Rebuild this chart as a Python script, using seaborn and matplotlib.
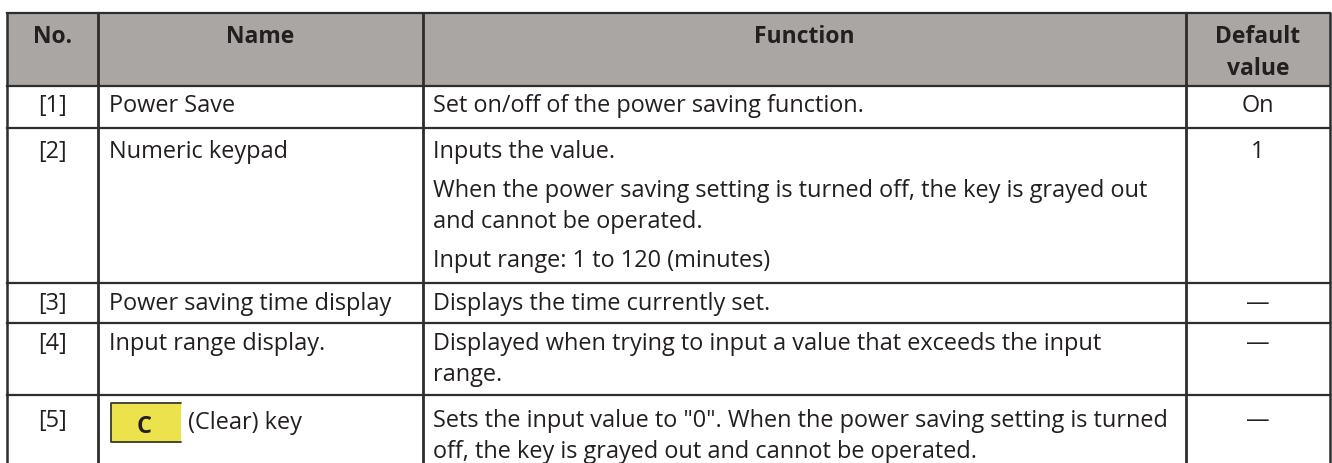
import matplotlib
matplotlib.use("Agg")
import matplotlib.pyplot as plt
from matplotlib.patches import Rectangle
import seaborn as sns

# table content
headers = ["No.", "Name", "Function", "Default\nvalue"]
numbers = ["[1]", "[2]", "[3]", "[4]", "[5]"]
names = ["Power Save", "Numeric keypad", "Power saving time display",
         "Input range display.", "(Clear) key"]
functions = [
    [["Set on/off of the power saving function."]],
    [["Inputs the value."],
     ["When the power saving setting is turned off, the key is grayed out",
      "and cannot be operated."],
     ["Input range: 1 to 120 (minutes)"]],
    [["Displays the time currently set."]],
    [["Displayed when trying to input a value that exceeds the input",
      "range."]],
    [["Sets the input value to \"0\". When the power saving setting is turned",
      "off, the key is grayed out and cannot be operated."]],
]
defaults = ["On", "1", "\u2014", "\u2014", "\u2014"]
key_label = "C"

# layout in pixels
W, H = 1332, 463
col_edges = [7, 98, 423, 1186, 1330]
row_edges = [13, 86, 128, 283, 323, 395, 480]
first_offset = [26, 30, 27, 27, 32]
line_step = 31
para_step = 39

sns.set_theme(style="white")
plt.rcParams["font.family"] = ["Open Sans", "DejaVu Sans"]

ink = "#231f20"
line_col = "#2d2d2d"
head_fill = "#aaa6a3"
body_fs = 16.9
head_fs = 16.5

fig = plt.figure(figsize=(W / 100, H / 100), dpi=100)
ax = fig.add_axes([0, 0, 1, 1])
ax.set_xlim(0, W)
ax.set_ylim(H, 0)
ax.axis("off")

# header band
ax.add_patch(Rectangle((col_edges[0], row_edges[0]),
                       col_edges[-1] - col_edges[0],
                       row_edges[1] - row_edges[0],
                       facecolor=head_fill, edgecolor="none", zorder=0))

# grid lines
for y in row_edges[:-1]:
    ax.plot([col_edges[0], col_edges[-1]], [y, y], color=line_col,
            lw=1.6, solid_capstyle="projecting", zorder=3)
for i, x in enumerate(col_edges):
    lw = 2.0 if 0 < i < len(col_edges) - 1 else 1.8
    ax.plot([x, x], [row_edges[0], row_edges[-1]], color=line_col,
            lw=lw, zorder=3)

# header text
for i, h in enumerate(headers):
    cx = (col_edges[i] + col_edges[i + 1]) / 2
    for j, part in enumerate(h.split("\n")):
        ax.text(cx, row_edges[0] + 30 + j * 32, part, ha="center",
                va="baseline", fontsize=head_fs, fontweight="bold",
                color=ink)

# body rows
for r in range(len(numbers)):
    top = row_edges[r + 1]
    base = top + first_offset[r]
    cx_no = (col_edges[0] + col_edges[1]) / 2
    cx_def = (col_edges[3] + col_edges[4]) / 2
    ax.text(cx_no, base, numbers[r], ha="center", va="baseline",
            fontsize=body_fs, color=ink)
    ax.text(cx_def, base, defaults[r], ha="center", va="baseline",
            fontsize=body_fs, color=ink)

    if r == 4:
        # yellow key glyph in front of the name
        kx0, kx1, ky0, ky1 = 111, 181, 403, 442
        ax.add_patch(Rectangle((kx0, ky0), kx1 - kx0, ky1 - ky0,
                               facecolor="#ebe24c", edgecolor="none",
                               zorder=2))
        ax.plot([kx1, kx0, kx0, kx1], [ky0, ky0, ky1, ky1],
                color="#3a3a2a", lw=1.3, zorder=3)
        ax.text((kx0 + kx1) / 2 - 2, base + 6, key_label, ha="center",
                va="baseline", fontsize=body_fs, fontweight="bold",
                color=ink)
        ax.text(188, base + 2, names[r], ha="left", va="baseline",
                fontsize=body_fs, color=ink)
    else:
        ax.text(col_edges[1] + 11, base, names[r], ha="left",
                va="baseline", fontsize=body_fs, color=ink)

    y = base
    for p, para in enumerate(functions[r]):
        if p > 0:
            y += para_step
        for k, line in enumerate(para):
            if k > 0:
                y += line_step
            ax.text(col_edges[2] + 10, y, line, ha="left", va="baseline",
                    fontsize=body_fs, color=ink)

fig.savefig("out.png", dpi=100, facecolor="white")
